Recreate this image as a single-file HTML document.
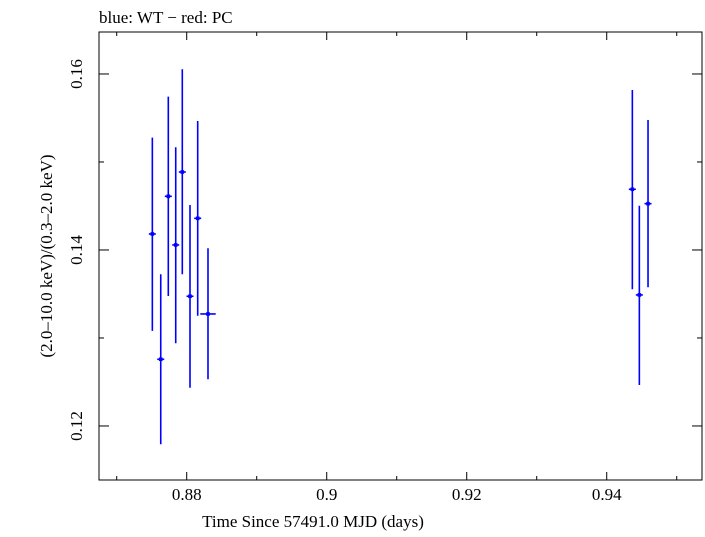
<!DOCTYPE html>
<html><head><meta charset="utf-8"><style>
body{margin:0;background:#fff;}
svg text{font-family:"Liberation Serif",serif;fill:#000;}
</style></head><body>
<svg id="chart" width="705" height="532" viewBox="0 0 705 532" xmlns="http://www.w3.org/2000/svg">
<text x="99" y="23" font-size="17">blue: WT − red: PC</text>
<rect x="99" y="32" width="603" height="448" fill="none" stroke="#000" stroke-width="1"/>
<g id="ticks"></g>
<g id="marks"></g>
<text x="313" y="527" font-size="17" text-anchor="middle">Time Since 57491.0 MJD (days)</text>
<text transform="translate(52,256) rotate(-90)" font-size="17" text-anchor="middle">(2.0–10.0 keV)/(0.3–2.0 keV)</text>
</svg>
<script>
const times=[0.87509,0.87629,0.87737,0.87843,0.87937,0.88047,0.88157,0.88304,0.94366,0.94466,0.9459];
const timeErr=[0.0005,0.0005,0.0005,0.0005,0.0005,0.0005,0.0005,0.0011,0.0005,0.0005,0.0005];
const ratios=[0.14182,0.12758,0.1461,0.14057,0.14886,0.13474,0.1436,0.13273,0.1469,0.13489,0.14526];
const ratioHi=[0.15276,0.13724,0.15742,0.15167,0.16053,0.14511,0.15466,0.14019,0.15818,0.14503,0.15477];
const ratioLo=[0.1308,0.11792,0.13477,0.1294,0.13724,0.12435,0.13253,0.12531,0.13553,0.12466,0.13576];
const xTickVals=[0.88,0.9,0.92,0.94];
const xTickLabels=["0.88","0.9","0.92","0.94"];
const xMinorVals=[0.87,0.89,0.91,0.93,0.95];
const yTickVals=[0.12,0.14,0.16];
const yTickLabels=["0.12","0.14","0.16"];
const yMinorVals=[0.13,0.15];
const L=99,R=702,T=32,B=480;
const xMin=0.86747,xMax=0.95361,yMin=0.11386,yMax=0.16477;
const X=v=>L+(v-xMin)/(xMax-xMin)*(R-L);
const Y=v=>B-(v-yMin)/(yMax-yMin)*(B-T);
const NS="http://www.w3.org/2000/svg";
function mk(tag,attrs,parent){const e=document.createElementNS(NS,tag);for(const k in attrs)e.setAttribute(k,attrs[k]);parent.appendChild(e);return e;}
const tg=document.getElementById('ticks');
xTickVals.forEach((v,i)=>{
 const x=X(v);
 let t=mk('line',{x1:x,x2:x,y1:B,y2:B-8,stroke:'#000'},tg);
 
 
 t=mk('line',{x1:x,x2:x,y1:T,y2:T+8,stroke:'#000'},tg);
 
 
 const lb=mk('text',{x:x,y:B+20,'font-size':17,'text-anchor':'middle'},tg);
 lb.textContent=xTickLabels[i];
 
 
});
xMinorVals.forEach(v=>{
 const x=X(v);
 let t=mk('line',{x1:x,x2:x,y1:B,y2:B-4,stroke:'#000'},tg);
 
 
 t=mk('line',{x1:x,x2:x,y1:T,y2:T+4,stroke:'#000'},tg);
 
 
});
yTickVals.forEach((v,i)=>{
 const y=Y(v);
 let t=mk('line',{x1:L,x2:L+10,y1:y,y2:y,stroke:'#000'},tg);
 
 
 t=mk('line',{x1:R,x2:R-10,y1:y,y2:y,stroke:'#000'},tg);
 
 
 const lb=mk('text',{transform:`translate(${L-17},${y}) rotate(-90)`,'font-size':17,'text-anchor':'middle'},tg);
 lb.textContent=yTickLabels[i];
 
 
});
yMinorVals.forEach(v=>{
 const y=Y(v);
 let t=mk('line',{x1:L,x2:L+5,y1:y,y2:y,stroke:'#000'},tg);
 
 
 t=mk('line',{x1:R,x2:R-5,y1:y,y2:y,stroke:'#000'},tg);
 
 
});
const mg=document.getElementById('marks');
times.forEach((t,i)=>{
 const g=mk('g',{},mg);
 
 
 const x=X(t),y=Y(ratios[i]);
 mk('line',{x1:x,x2:x,y1:Y(ratioHi[i]),y2:Y(ratioLo[i]),stroke:'#0000ff','stroke-width':1.6},g);
 mk('line',{x1:X(t-timeErr[i]),x2:X(t+timeErr[i]),y1:y,y2:y,stroke:'#0000ff','stroke-width':1.6},g);
 mk('rect',{x:x-1.8,y:y-1.8,width:3.6,height:3.6,fill:'#0000ff'},g);
});
</script>
</body></html>
